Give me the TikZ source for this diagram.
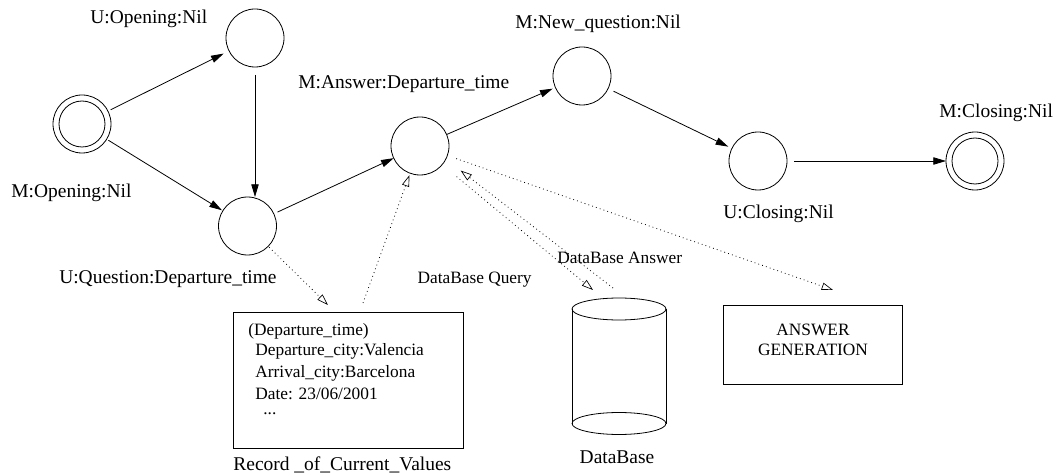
\documentclass[tikz,border=0pt]{standalone}
\usepackage{fontspec}
\setmainfont{Liberation Serif}
\newfontfamily\figfont{Liberation Serif}
\usetikzlibrary{arrows.meta,calc}

\begin{document}
\begin{tikzpicture}[x=0.75pt,y=-0.75pt,line width=0.6pt,
  state/.style={circle,draw,minimum size=43.5pt,inner sep=0pt,outer sep=0pt},
  final/.style={state,path picture={\draw (path picture bounding box.center) circle[radius=17.25pt];}},
  lbl/.style={font=\figfont\fontsize{14.6}{17}\selectfont,inner sep=0pt},
  small/.style={font=\figfont\fontsize{13}{15}\selectfont,inner sep=0pt},
  box/.style={draw,rectangle,inner sep=0pt,outer sep=0pt},
  trans/.style={-{Triangle[length=9.5pt,width=5.5pt]}},
  flow/.style={dash pattern=on 0.6pt off 2.4pt,-{Triangle[open,length=8.5pt,width=5.5pt,line width=0.5pt]}},
]
\useasboundingbox (0,0) rectangle (1057,474);

% dialogue states
\node[final] (s0) at (82,124) {};
\node[state] (uo) at (255,38) {};
\node[state] (uq) at (247.5,226) {};
\node[state] (ma) at (420,146) {};
\node[state] (nq) at (582,76) {};
\node[state] (uc) at (758,161) {};
\node[final] (mc) at (975,161) {};

% state labels
\node[lbl,anchor=base west] (luo) at (90,24) {U:Opening:Nil};
\node[lbl,anchor=base west] (ls0) at (11,198) {M:Opening:Nil};
\node[lbl,anchor=base east] (luq) at (277,283) {U:Question:Departure\_time};
\node[lbl,anchor=base west] (lma) at (298,89) {M:Answer:Departure\_time};
\node[lbl,anchor=base west] (lnq) at (515,29) {M:New\_question:Nil};
\node[lbl,anchor=base west] (luc) at (723,219) {U:Closing:Nil};
\node[lbl,anchor=base west] (lmc) at (939,118) {M:Closing:Nil};

% transitions
\draw[trans,shorten <=2.25pt,shorten >=4.5pt] (s0) -- (uo);
\draw[trans,shorten <=1.5pt,shorten >=0.75pt] (s0) -- (uq);
\draw[trans,shorten <=6pt] (uo.south) -- (uo.south |- uq.north);
\draw[trans,shorten <=3pt] (uq) -- (ma);
\draw[trans,shorten >=2.25pt] (ma) -- (nq);
\draw[trans,shorten <=4.5pt,shorten >=3pt] (nq) -- (uc);
\draw[trans,shorten <=5.25pt] (uc) -- (mc);

% record of current values
\node[box,minimum width=172.5pt,minimum height=102pt] (rec) at (348,380) {};
\node[small,anchor=base west] (rv1) at (248,335) {(Departure\_time)};
\node[small,anchor=base west] (rv2) at (255,355) {Departure\_city:Valencia};
\node[small,anchor=base west] (rv3) at (255,377) {Arrival\_city:Barcelona};
\node[small,anchor=base west,text depth=0pt] (rv4) at (255,399) {Date: 23/06/2001};
\node[small,anchor=base west,text depth=0pt,text height=2pt] (rv5) at (263,414) {...};
\node[lbl,anchor=base west] (lrec) at (233,470) {Record \_of\_Current\_Values};

% database
\draw (619,309) ellipse[x radius=35.25pt,y radius=8.25pt];
\draw (619,423.5) ellipse[x radius=35.25pt,y radius=8.25pt];
\draw (572,309) -- (572,423.5);
\draw (666,309) -- (666,423.5);
\node[lbl,anchor=base] (ldb) at (617,463) {DataBase};

% answer generation
\node[box,minimum width=134.25pt,minimum height=59.25pt] (gen) at (812.5,344.5) {};
\node[small,anchor=base] (gen1) at (813,335) {ANSWER};
\node[small,anchor=base] (gen2) at (813,355) {GENERATION};

% information flow
\coordinate (recin) at (328,305);
\coordinate (recout) at (363,303);
\coordinate (dbq) at (593,290);
\coordinate (dba) at (613,288);
\coordinate (genin) at (833,290);
\draw[flow,shorten <=1pt] (uq) -- (recin);
\draw[flow,shorten >=1.5pt] (recout) -- (ma);
\draw[flow,shorten <=14pt] (ma.-40) -- (dbq);
\draw[flow,shorten >=14pt] (dba) -- (ma.-27);
\draw[flow,shorten <=7pt] (ma) -- (genin);
\node[small,anchor=base east] (lq) at (532,283) {DataBase Query};
\node[small,anchor=base west] (la) at (557,263) {DataBase Answer};
\end{tikzpicture}
\end{document}
